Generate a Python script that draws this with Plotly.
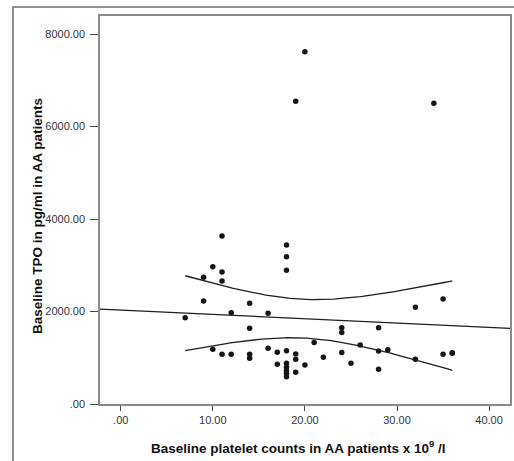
import numpy as np
import plotly.graph_objects as go

# Baseline platelet counts (x 10^9/l) and baseline TPO (pg/ml)
platelets = [20, 19, 34, 11, 18, 18, 18, 10, 11, 9,
             11, 9, 14, 12, 16, 7, 14, 24, 24, 21,
             16, 10, 11, 12, 14, 14, 17, 18, 19, 19,
             22, 24, 25, 17, 18, 18, 18, 18, 18, 19,
             20, 35, 32, 28, 26, 28, 29, 28, 32, 35,
             36, 36]
tpo = [7617, 6545, 6501, 3632, 3438, 3185, 2891, 2969, 2854, 2739,
       2659, 2227, 2177, 1974, 1961, 1866, 1637, 1650, 1546, 1330,
       1204, 1183, 1075, 1075, 1075, 988, 1118, 1152, 1081, 966,
       1010, 1113, 880, 858, 880, 793, 720, 664, 590, 685,
       843, 2270, 2091, 1650, 1276, 1146, 1174, 750, 966, 1075,
       1096, 1110]

x_ticks = [0, 10, 20, 30, 40]
x_tick_labels = [".00", "10.00", "20.00", "30.00", "40.00"]
y_ticks = [0, 2000, 4000, 6000, 8000]
y_tick_labels = [".00", "2000.00", "4000.00", "6000.00", "8000.00"]

X_RANGE = [-2.25, 42.27]
Y_RANGE = [0, 8390]
T_CRIT = 2.009  # t(0.975, df=50)

# Linear fit with 95% confidence band of the mean
x = np.array(platelets, dtype=float)
y = np.array(tpo, dtype=float)
n = len(x)
slope, intercept = np.polyfit(x, y, 1)
resid = y - (intercept + slope * x)
s = np.sqrt(np.sum(resid ** 2) / (n - 2))
xbar = x.mean()
sxx = np.sum((x - xbar) ** 2)

xl = np.linspace(X_RANGE[0], X_RANGE[1], 50)
yl = intercept + slope * xl
xc = np.linspace(x.min(), x.max(), 120)
yc = intercept + slope * xc
half = T_CRIT * s * np.sqrt(1.0 / n + (xc - xbar) ** 2 / sxx)

line_col = "#1e1e1e"
fig = go.Figure()
fig.add_trace(go.Scatter(x=xl, y=yl, mode="lines",
                         line=dict(color=line_col, width=1.3), hoverinfo="skip"))
fig.add_trace(go.Scatter(x=xc, y=yc + half, mode="lines",
                         line=dict(color=line_col, width=1.3), hoverinfo="skip"))
fig.add_trace(go.Scatter(x=xc, y=yc - half, mode="lines",
                         line=dict(color=line_col, width=1.3), hoverinfo="skip"))
fig.add_trace(go.Scatter(x=platelets, y=tpo, mode="markers",
                         marker=dict(color="#151515", size=5.5, symbol="circle")))

axis_col = "#8a8a8a"
tick_font = dict(family="Liberation Sans, Arial, sans-serif", size=11, color="#333333")
title_font = dict(family="Liberation Sans, Arial, sans-serif", size=13.5, color="#111111")

L, R, T, B = 100, 4, 16, 57
PW = 514 - L - R
PH = 461 - T - B


def px_x(px):
    return (px - L) / PW


def px_y(py):
    return (461 - B - py) / PH


fig.update_layout(
    width=514, height=461,
    margin=dict(l=L, r=R, t=T, b=B),
    paper_bgcolor="white", plot_bgcolor="white",
    showlegend=False,
    xaxis=dict(range=X_RANGE, tickvals=x_ticks, ticktext=x_tick_labels,
               automargin=False,
               showgrid=False, zeroline=False, showline=True, linecolor=axis_col,
               linewidth=1.5, mirror=True, ticks="outside", ticklen=5,
               tickcolor="#444444", tickwidth=1.3, tickfont=tick_font),
    yaxis=dict(range=Y_RANGE, tickvals=y_ticks, ticktext=y_tick_labels,
               automargin=False, ticklabelstandoff=3,
               showgrid=False, zeroline=False, showline=True, linecolor=axis_col,
               linewidth=1.5, mirror=True, ticks="outside", ticklen=8,
               tickcolor="#444444", tickwidth=1.3, tickfont=tick_font),
    annotations=[
        dict(text="<b>Baseline platelet counts in AA patients x 10<sup>9</sup> /l</b>",
             xref="paper", yref="paper", x=px_x(298), y=px_y(447),
             xanchor="center", yanchor="middle", showarrow=False, font=title_font),
        dict(text="<b>Baseline TPO in pg/ml in AA patients</b>",
             xref="paper", yref="paper", x=px_x(38), y=px_y(216), textangle=-90,
             xanchor="center", yanchor="middle", showarrow=False, font=title_font),
    ],
    shapes=[dict(type="rect", xref="paper", yref="paper",
                 x0=px_x(13), x1=px_x(520), y0=px_y(470), y1=px_y(7),
                 line=dict(color="#6e6e6e", width=1.5), fillcolor="rgba(0,0,0,0)",
                 layer="below")],
)

fig.write_html("out.html", config={"displayModeBar": False},
               post_script="document.body.style.margin='0';document.body.style.overflow='hidden';")
